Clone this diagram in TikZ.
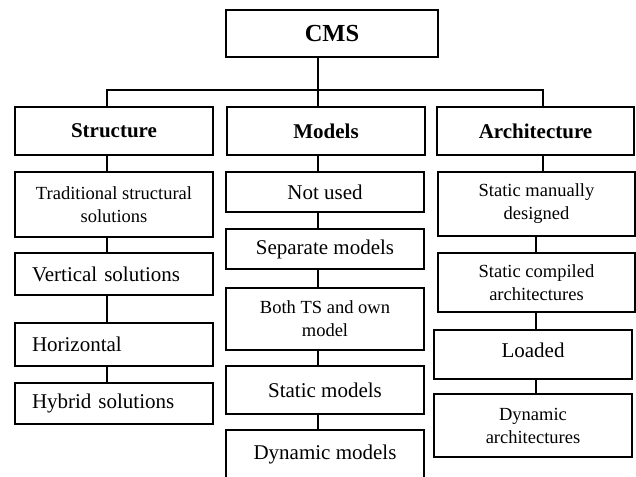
\documentclass[tikz,border=0pt]{standalone}
\usepackage{fontspec}
\setmainfont{Liberation Serif}
\begin{document}
\begin{tikzpicture}[x=1pt,y=-1pt,
  box/.style={draw, line width=2pt, rectangle, inner sep=0pt, anchor=north west,
              minimum width=198pt, align=center},
  big/.style={font=\fontsize{21}{23}\selectfont},
  small/.style={font=\fontsize{18.5}{23}\selectfont},
  head/.style={font=\bfseries\fontsize{21}{23}\selectfont},
  lefttext/.style={inner xsep=17pt, text width=164pt, align=left},
  link/.style={line width=2pt, line join=miter}]
\useasboundingbox (0,0) rectangle (636,476);
\clip (0,0) rectangle (636,476);

% root
\node[box, minimum width=212pt, minimum height=47pt,
      font=\bfseries\fontsize{24.5}{26}\selectfont] (cms) at (225,9) {CMS};

% column heads
\node[box, head, minimum height=48pt] (str)  at (14,106)  {Structure};
\node[box, head, minimum height=48pt] (mod)  at (226,106) {Models};
\node[box, head, minimum width=197pt, minimum height=48pt] (arch) at (436,106) {Architecture};

% structure column
\node[box, small, minimum height=65pt] (trad) at (14,171) {Traditional structural\\solutions};
\node[box, big, lefttext, minimum height=42pt] (vert) at (14,252) {Vertical solutions};
\node[box, big, lefttext, minimum height=43pt] (hor)  at (14,322) {Horizontal};
\node[box, big, lefttext, minimum height=41pt] (hyb)  at (14,382) {Hybrid solutions};

% models column
\node[box, big, minimum height=40pt] (nused) at (225,171) {Not used};
\node[box, big, minimum height=40pt] (sepm)  at (225,228) {Separate models};
\node[box, small, minimum height=62pt] (both) at (225,287) {Both TS and own\\model};
\node[box, big, minimum height=48pt] (statm) at (225,365) {Static models};
\node[box, big, minimum height=60pt, text height=14pt, text depth=16pt] (dynm) at (225,429) {Dynamic models};

% architecture column
\node[box, small, minimum width=197pt, minimum height=64pt] (smd)  at (437,171) {Static manually\\designed};
\node[box, small, minimum width=197pt, minimum height=59pt] (scomp) at (437,252) {Static compiled\\architectures};
\node[box, big, minimum height=49pt, text height=14pt, text depth=8pt] (load) at (433,329) {Loaded};
\node[box, small, minimum height=63pt] (darch) at (433,393) {Dynamic\\architectures};

% connector columns
\coordinate (c1)  at (107,90);
\coordinate (bus) at (318,90);
\coordinate (c3)  at (543,90);
\coordinate (c3b) at (536,0);

\draw[link] (cms.south -| bus) -- (mod.north -| bus);
\draw[link] (str.north -| c1) -- (c1) -- (c3) -- (arch.north -| c3);

\draw[link] (str.south -| c1)  -- (trad.north -| c1);
\draw[link] (trad.south -| c1) -- (vert.north -| c1);
\draw[link] (vert.south -| c1) -- (hor.north -| c1);
\draw[link] (hor.south -| c1)  -- (hyb.north -| c1);

\draw[link] (mod.south -| bus)   -- (nused.north -| bus);
\draw[link] (nused.south -| bus) -- (sepm.north -| bus);
\draw[link] (sepm.south -| bus)  -- (both.north -| bus);
\draw[link] (both.south -| bus)  -- (statm.north -| bus);
\draw[link] (statm.south -| bus) -- (dynm.north -| bus);

\draw[link] (arch.south -| c3)   -- (smd.north -| c3);
\draw[link] (smd.south -| c3b)   -- (scomp.north -| c3b);
\draw[link] (scomp.south -| c3b) -- (load.north -| c3b);
\draw[link] (load.south -| c3b)  -- (darch.north -| c3b);
\end{tikzpicture}
\end{document}
